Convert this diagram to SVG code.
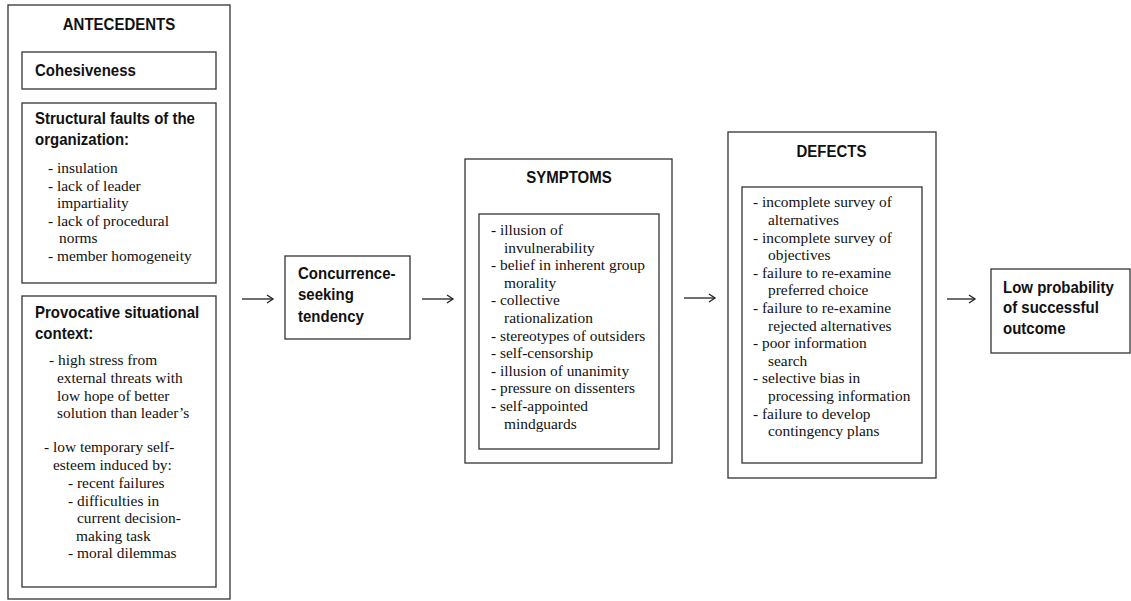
<svg xmlns="http://www.w3.org/2000/svg" width="1131" height="601" viewBox="0 0 1131 601">
<style>
.box{fill:#fff;stroke:#333;stroke-width:1.3}
.h{font-family:"Liberation Sans",Arial,sans-serif;font-weight:bold;font-size:15px;fill:#111}
.t{font-family:"Liberation Serif","Times New Roman",serif;font-size:15.4px;fill:#111}
.c{text-anchor:middle}
.arr{stroke:#222;stroke-width:1.3;fill:none}
</style>
<defs>
<marker id="ah" markerWidth="10" markerHeight="10" refX="8" refY="5" orient="auto" markerUnits="userSpaceOnUse">
<polyline points="2,1 8,5 2,9" fill="none" stroke="#222" stroke-width="1.3"/>
</marker>
</defs>
<rect width="1131" height="601" fill="#fff"/>
<g id="antecedents">
<rect class="box" x="8" y="5" width="222" height="594"/>
<text class="h c" transform="translate(119,30) scale(1,1.15)">ANTECEDENTS</text>
</g>
<g id="cohesiveness">
<rect class="box" x="22" y="52" width="194" height="37"/>
<text class="h" transform="translate(35,76) scale(1,1.15)">Cohesiveness</text>
</g>
<g id="structural">
<rect class="box" x="22" y="103" width="194" height="180"/>
<text class="h" transform="translate(35,124) scale(1,1.15)">Structural faults of the</text>
<text class="h" transform="translate(35,145) scale(1,1.15)">organization:</text>
<text class="t" x="48" y="173">- insulation</text>
<text class="t" x="48" y="190.5">- lack of leader</text>
<text class="t" x="57" y="208">impartiality</text>
<text class="t" x="48" y="225.5">- lack of procedural</text>
<text class="t" x="59" y="243">norms</text>
<text class="t" x="48" y="260.5">- member homogeneity</text>
</g>
<g id="provocative">
<rect class="box" x="22" y="296" width="194" height="291"/>
<text class="h" transform="translate(35,318) scale(1,1.15)">Provocative situational</text>
<text class="h" transform="translate(35,339) scale(1,1.15)">context:</text>
<text class="t" x="49" y="365">- high stress from</text>
<text class="t" x="57" y="383">external threats with</text>
<text class="t" x="57" y="401">low hope of better</text>
<text class="t" x="57" y="418">solution than leader’s</text>
<text class="t" x="44" y="452">- low temporary self-</text>
<text class="t" x="53" y="470">esteem induced by:</text>
<text class="t" x="68" y="488">- recent failures</text>
<text class="t" x="68" y="505.5">- difficulties in</text>
<text class="t" x="77" y="523">current decision-</text>
<text class="t" x="76" y="540.5">making task</text>
<text class="t" x="68" y="558">- moral dilemmas</text>
</g>
<g id="concurrence">
<rect class="box" x="285" y="256" width="125" height="83"/>
<text class="h" transform="translate(298,279) scale(1,1.15)">Concurrence-</text>
<text class="h" transform="translate(298,300) scale(1,1.15)">seeking</text>
<text class="h" transform="translate(298,322) scale(1,1.15)">tendency</text>
</g>
<g id="symptoms">
<rect class="box" x="465" y="159" width="207" height="304"/>
<text class="h c" transform="translate(569,183) scale(1,1.15)">SYMPTOMS</text>
<rect class="box" x="479" y="214" width="180" height="235"/>
<text class="t" x="491" y="235">- illusion of</text>
<text class="t" x="504" y="252.6">invulnerability</text>
<text class="t" x="491" y="270.2">- belief in inherent group</text>
<text class="t" x="504" y="287.8">morality</text>
<text class="t" x="491" y="305.4">- collective</text>
<text class="t" x="504" y="323">rationalization</text>
<text class="t" x="491" y="340.6">- stereotypes of outsiders</text>
<text class="t" x="491" y="358.2">- self-censorship</text>
<text class="t" x="491" y="375.8">- illusion of unanimity</text>
<text class="t" x="491" y="393.4">- pressure on dissenters</text>
<text class="t" x="491" y="411">- self-appointed</text>
<text class="t" x="504" y="428.6">mindguards</text>
</g>
<g id="defects">
<rect class="box" x="728" y="132" width="208" height="346"/>
<text class="h c" transform="translate(831.5,157) scale(1,1.15)">DEFECTS</text>
<rect class="box" x="742" y="187" width="180" height="276"/>
<text class="t" x="753" y="207.3">- incomplete survey of</text>
<text class="t" x="768" y="224.9">alternatives</text>
<text class="t" x="753" y="242.5">- incomplete survey of</text>
<text class="t" x="768" y="260.1">objectives</text>
<text class="t" x="753" y="277.7">- failure to re-examine</text>
<text class="t" x="768" y="295.3">preferred choice</text>
<text class="t" x="753" y="312.9">- failure to re-examine</text>
<text class="t" x="768" y="330.5">rejected alternatives</text>
<text class="t" x="753" y="348.1">- poor information</text>
<text class="t" x="768" y="365.7">search</text>
<text class="t" x="753" y="383.3">- selective bias in</text>
<text class="t" x="768" y="400.9">processing information</text>
<text class="t" x="753" y="418.5">- failure to develop</text>
<text class="t" x="768" y="436.1">contingency plans</text>
</g>
<g id="outcome">
<rect class="box" x="991" y="269" width="139" height="84"/>
<text class="h" transform="translate(1003,293) scale(1,1.15)">Low probability</text>
<text class="h" transform="translate(1003,313) scale(1,1.15)">of successful</text>
<text class="h" transform="translate(1003,334) scale(1,1.15)">outcome</text>
</g>
<g id="connectors">
<line class="arr" x1="242" y1="299" x2="273" y2="299" marker-end="url(#ah)"/>
<line class="arr" x1="422" y1="299" x2="453" y2="299" marker-end="url(#ah)"/>
<line class="arr" x1="684" y1="298" x2="715" y2="298" marker-end="url(#ah)"/>
<line class="arr" x1="947" y1="299" x2="975" y2="299" marker-end="url(#ah)"/>
</g>
</svg>
